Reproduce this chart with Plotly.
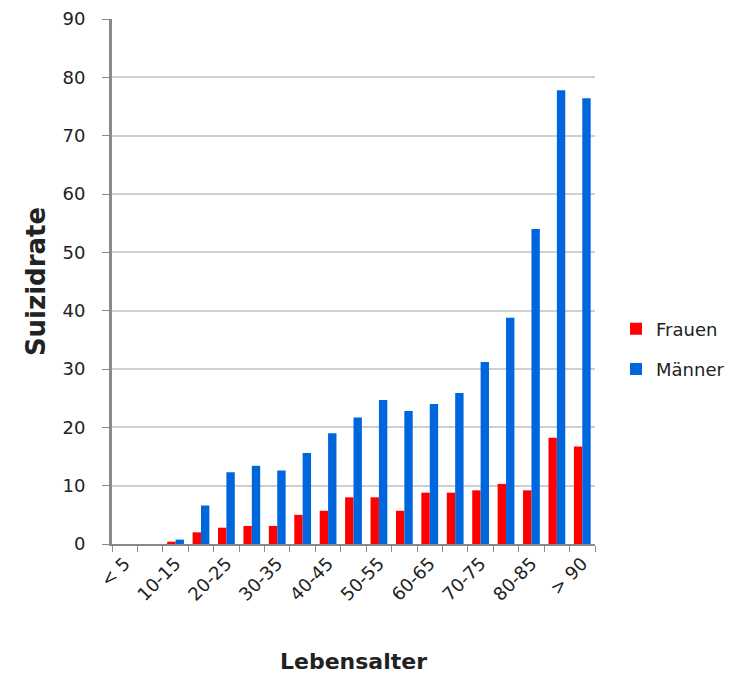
import plotly.graph_objects as go

# Age groups (years) and suicide rates per 100,000 by sex
ages = ["< 5", "5-10", "10-15", "15-20", "20-25", "25-30", "30-35", "35-40",
        "40-45", "45-50", "50-55", "55-60", "60-65", "65-70", "70-75",
        "75-80", "80-85", "85-90", "> 90"]
frauen = [0, 0, 0.4, 2.0, 2.8, 3.1, 3.1, 5.0, 5.7, 8.0, 8.0, 5.7, 8.8, 8.8,
          9.2, 10.3, 9.2, 18.2, 16.7]
maenner = [0, 0, 0.75, 6.6, 12.3, 13.4, 12.6, 15.6, 19.0, 21.7, 24.7, 22.8,
           24.0, 25.9, 31.2, 38.8, 54.0, 77.8, 76.4]

y_ticks = list(range(0, 91, 10))

FONT = "DejaVu Sans"
TEXT = "#222222"
AXIS = "#8a8a8a"
GRID = "#cfcfcf"

pos = list(range(len(ages)))

fig = go.Figure()
fig.add_trace(go.Bar(x=pos, y=frauen, name="Frauen", marker_color="#ff0000",
                     marker_line_width=0, legendgroup="f"))
fig.add_trace(go.Bar(x=pos, y=maenner, name="Männer", marker_color="#0066dd",
                     marker_line_width=0, legendgroup="m"))

fig.update_layout(
    width=737, height=675,
    margin=dict(l=112, r=142, t=19, b=131, autoexpand=False),
    paper_bgcolor="white", plot_bgcolor="white",
    font=dict(family=FONT, color=TEXT, size=16),
    barmode="group", bargap=0.34, bargroupgap=0,
    legend=dict(xref="container", x=616 / 737, xanchor="left",
                yref="container", y=1 - 349 / 675, yanchor="middle",
                font=dict(size=18, color=TEXT), tracegroupgap=14,
                itemwidth=30),
)

fig.update_xaxes(
    range=[-0.5, len(ages) - 0.5],
    tickmode="array", tickvals=pos[::2], ticktext=ages[::2],
    tickangle=-45, ticks="", showgrid=False,
    showline=True, linecolor=AXIS, linewidth=2,
    tickfont=dict(size=18, color=TEXT),
    minor=dict(tickmode="linear", tick0=-0.5, dtick=1, ticks="outside",
               ticklen=6, tickcolor=AXIS, tickwidth=1, showgrid=False),
    title=dict(text="<b>Lebensalter</b>", font=dict(size=22, color=TEXT),
               standoff=50),
    zeroline=False,
)

fig.update_yaxes(
    range=[0, 90], tickmode="array", tickvals=y_ticks,
    ticks="outside", ticklen=7, tickcolor=AXIS, tickwidth=1,
    showline=True, linecolor=AXIS, linewidth=3,
    showgrid=True, gridcolor=GRID, gridwidth=2,
    tickfont=dict(size=18, color=TEXT), ticklabelstandoff=13,
    title=dict(text="<b>Suizidrate</b>", font=dict(size=26, color=TEXT),
               standoff=10),
    zeroline=False,
)

fig.write_html("out.html")
